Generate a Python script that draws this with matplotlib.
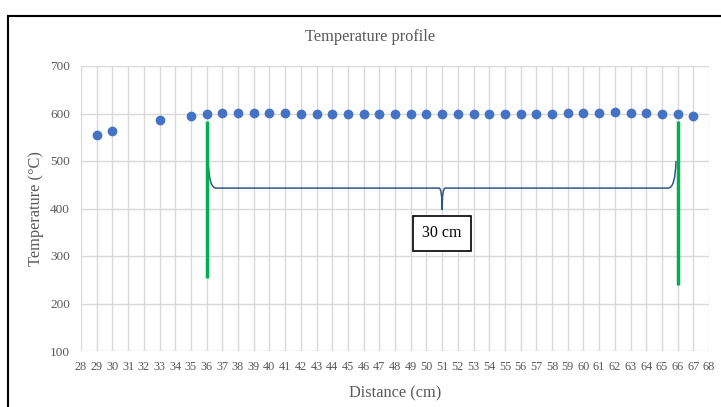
import numpy as np
import matplotlib.pyplot as plt
from matplotlib.path import Path
from matplotlib.patches import PathPatch, Rectangle

plt.rcParams["font.family"] = ["Liberation Serif", "DejaVu Serif"]

# data
distance = [29, 30, 33, 35, 36, 37, 38, 39, 40, 41, 42, 43, 44, 45, 46, 47, 48,
            49, 50, 51, 52, 53, 54, 55, 56, 57, 58, 59, 60, 61, 62, 63, 64, 65,
            66, 67]
temperature = [554, 564, 587, 594, 598, 601, 602, 602, 602, 601, 599, 599, 598,
               598, 598, 598, 598, 598, 598, 598, 598, 598, 599, 599, 599, 600,
               600, 602, 602, 602, 603, 602, 602, 600, 598, 595]

# marked zone
zone_start, zone_end = 36, 66
zone_start_range = (254, 585)
zone_end_range = (239, 585)
brace_y, brace_top, brace_tip = 443, 500, 397
zone_label = "30 cm"

fig = plt.figure(figsize=(7.21, 4.07), dpi=100)
ax = fig.add_axes([81 / 721, 1 - 351 / 407, 628 / 721, 285 / 407])

ax.scatter(distance, temperature, s=36, color="#4472C4", zorder=3)

ax.vlines(zone_start, *zone_start_range, color="#00B050", lw=2.5, zorder=4)
ax.vlines(zone_end, *zone_end_range, color="#00B050", lw=2.5, zorder=4)

# curly brace between the two green lines
mid = (zone_start + zone_end) / 2
verts = [
    (zone_start + 0.1, brace_top),
    (zone_start + 0.15, brace_y), (zone_start + 0.6, brace_y),
    (mid - 0.2, brace_y),
    (mid, brace_y), (mid, brace_tip),
    (mid, brace_y), (mid + 0.2, brace_y),
    (zone_end - 0.6, brace_y),
    (zone_end - 0.15, brace_y), (zone_end - 0.1, brace_top),
]
codes = [Path.MOVETO, Path.CURVE3, Path.CURVE3, Path.LINETO,
         Path.CURVE3, Path.CURVE3, Path.CURVE3, Path.CURVE3,
         Path.LINETO, Path.CURVE3, Path.CURVE3]
ax.add_patch(PathPatch(Path(verts, codes), fill=False, ec="#2F5588", lw=1.1,
                       zorder=3))

ax.text(mid, 348, zone_label, ha="center", va="center", fontsize=11.5,
        bbox=dict(boxstyle="square,pad=0.6", fc="white", ec="black", lw=1.2),
        zorder=5)

ax.set_xlim(28, 68)
ax.set_ylim(100, 700)
ax.set_xticks(np.arange(28, 69, 1))
ax.set_yticks(np.arange(100, 701, 100))
ax.grid(True, color="#D9D9D9", lw=1)
ax.set_axisbelow(True)
for s in ax.spines.values():
    s.set_visible(False)
ax.tick_params(length=0, colors="#595959", labelsize=8.8)
ax.tick_params(axis="y", labelsize=9.5, pad=8)
ax.tick_params(axis="x", pad=7)

fig.text(370 / 721, 1 - 37 / 407, "Temperature profile", ha="center",
         va="center", fontsize=11.8, color="#595959")
ax.set_xlabel("Distance (cm)", fontsize=11.8, color="#595959", labelpad=9)
ax.set_ylabel("Temperature (°C)", fontsize=11.8, color="#595959",
              va="center")
ax.yaxis.set_label_coords(-0.072, 0.5)

fig.patches.append(Rectangle((8 / 721, -0.05), 1.1, 1 - 16 / 407 + 0.05,
                             transform=fig.transFigure, fill=False,
                             ec="black", lw=1.5))

fig.savefig("out.png", dpi=100)
